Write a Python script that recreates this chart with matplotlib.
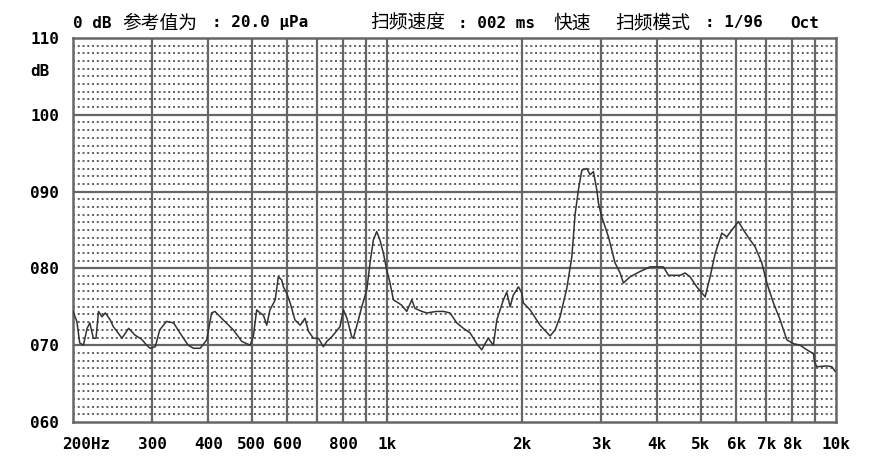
import matplotlib
matplotlib.use("Agg")
import matplotlib.pyplot as plt
import matplotlib.transforms as mtransforms

# --------------------------------------------------
# data (Hz, dB)
# --------------------------------------------------

freq_hz = [
    200, 204, 207, 211, 215, 218, 222, 225, 228, 232,
    236, 242, 246, 252, 257, 266, 275, 284, 292, 297,
    305, 312, 323, 335, 346, 361, 371, 384, 397, 407,
    414, 432, 455, 475, 496, 504, 513, 522, 531, 540,
    549, 564, 573, 583, 588, 598, 609, 624, 641, 657,
    669, 686, 704, 722, 735, 754, 786, 800, 815, 835,
    842, 864, 879, 902, 917, 933, 949, 965, 982, 999,
    1016, 1034, 1061, 1079, 1107, 1136, 1155, 1196, 1227, 1291,
    1336, 1382, 1431, 1480, 1532, 1585, 1626, 1654, 1682, 1726,
    1757, 1817, 1849, 1881, 1911, 1963, 1997, 2013, 2084, 2193,
    2309, 2369, 2430, 2515, 2581, 2624, 2669, 2717, 2787, 2834,
    2883, 2934, 2958, 3010, 3114, 3222, 3306, 3362, 3479, 3663,
    3855, 4128, 4235, 4496, 4613, 4733, 4898, 5112, 5244, 5380,
    5569, 5713, 5862, 6064, 6222, 6439, 6606, 6838, 7015, 7256,
    7509, 7771, 8039, 8320, 8611, 8908, 8950, 9063, 9541, 9788,
    9956,
]

level_db = [
    74.4, 73.1, 70.3, 70.0, 72.2, 72.9, 70.9, 70.9, 74.4, 73.7,
    74.2, 73.3, 72.4, 71.6, 70.9, 72.2, 71.3, 70.8, 70.0, 69.6,
    69.8, 72.0, 73.1, 72.9, 71.6, 70.0, 69.6, 69.6, 70.7, 74.2,
    74.4, 73.3, 72.0, 70.5, 70.0, 71.1, 74.6, 74.2, 73.9, 72.6,
    74.6, 75.9, 78.9, 78.5, 77.6, 76.8, 75.5, 73.3, 72.6, 73.5,
    71.8, 70.9, 70.9, 69.8, 70.5, 71.1, 72.4, 74.6, 73.5, 71.1,
    70.9, 73.3, 75.0, 77.2, 80.7, 83.7, 84.8, 83.7, 82.0, 79.8,
    78.1, 75.9, 75.5, 75.2, 74.4, 75.9, 74.8, 74.4, 74.2, 74.4,
    74.4, 74.2, 72.9, 72.2, 71.6, 70.2, 69.4, 70.2, 70.9, 70.0,
    73.3, 75.9, 76.9, 75.0, 76.5, 77.6, 76.8, 75.5, 74.6, 72.6,
    71.2, 72.0, 73.7, 77.4, 81.5, 87.0, 90.2, 92.8, 93.0, 92.2,
    92.6, 90.2, 88.5, 86.7, 84.1, 80.7, 79.4, 78.1, 78.9, 79.6,
    80.2, 80.2, 79.1, 79.1, 79.4, 78.9, 77.6, 76.3, 78.9, 81.9,
    84.6, 84.1, 85.0, 86.1, 85.0, 83.7, 82.8, 80.7, 78.1, 75.5,
    73.3, 70.7, 70.2, 70.0, 69.4, 68.9, 67.9, 67.2, 67.3, 67.2,
    66.6,
]

# grid / tick definitions
x_grid = [300, 400, 500, 600, 700, 800, 900, 1000, 2000, 3000,
          4000, 5000, 6000, 7000, 8000, 9000]
x_ticks = [200, 300, 400, 500, 600, 800, 1000, 2000, 3000,
           4000, 5000, 6000, 7000, 8000, 10000]
x_labels = ["200Hz", "300", "400", "500", "600", "800", "1k", "2k", "3k",
            "4k", "5k", "6k", "7k", "8k", "10k"]
y_ticks = [60, 70, 80, 90, 100, 110]
y_labels = ["060", "070", "080", "090", "100", "110"]

header_parts = [
    (73, "0 dB"), (122, "参考值为"), (212, ": 20.0 μPa"),
    (370, "扫频速度"), (458, ": 002 ms"), (553, "快速"),
    (615, "扫频模式"), (705, ": 1/96"), (790, "Oct"),
]

# --------------------------------------------------
# figure
# --------------------------------------------------

plt.rcParams["font.family"] = ["DejaVu Sans Mono", "Noto Sans CJK SC"]

W, H = 880, 465
fig = plt.figure(figsize=(W / 100, H / 100), dpi=100)
ax = fig.add_axes([73 / W, 1 - 422 / H, (836 - 73) / W, (422 - 38) / H])

ax.set_xscale("log")
ax.set_xlim(200, 10000)
ax.set_ylim(60, 110)

grid_col = "#666666"

# dotted 1 dB rows
for v in range(61, 110):
    if v % 10 == 0:
        continue
    ax.axhline(v, color="#5e5e5e", lw=1.4, linestyle=(0, (1, 1.45)), zorder=1)

# major lines
for v in y_ticks[1:-1]:
    ax.axhline(v, color=grid_col, lw=1.6, zorder=2)
for f in x_grid:
    ax.axvline(f, color=grid_col, lw=1.6, zorder=2)

ax.plot(freq_hz, level_db, color="#333333", lw=1.1, zorder=3)

for s in ax.spines.values():
    s.set_color(grid_col)
    s.set_linewidth(1.8)

ax.minorticks_off()
ax.set_xticks(x_ticks)
ax.set_xticklabels(x_labels)
ax.set_yticks(y_ticks)
ax.set_yticklabels(y_labels)
ax.tick_params(length=0, labelsize=11.5)
ax.tick_params(axis="x", pad=11)
ax.tick_params(axis="y", pad=10)
for lab in ax.get_xticklabels() + ax.get_yticklabels():
    lab.set_fontweight("bold")

# "200Hz" sits with its digits centred on the left edge
first = ax.get_xticklabels()[0]
first.set_horizontalalignment("left")
first.set_transform(first.get_transform() +
                    mtransforms.ScaledTranslation(-11 / 100, 0, fig.dpi_scale_trans))

fig.text(30 / W, 1 - 72 / H, "dB", fontsize=11.5, fontweight="bold",
         va="center", ha="left")

for xp, txt in header_parts:
    is_cjk = any(ord(c) > 0x2000 and c != "μ" for c in txt)
    fig.text(xp / W, 1 - 23 / H, txt, va="center", ha="left",
             fontsize=13.5 if is_cjk else 11.5,
             fontweight="normal" if is_cjk else "bold")

fig.savefig("out.png", dpi=100)
